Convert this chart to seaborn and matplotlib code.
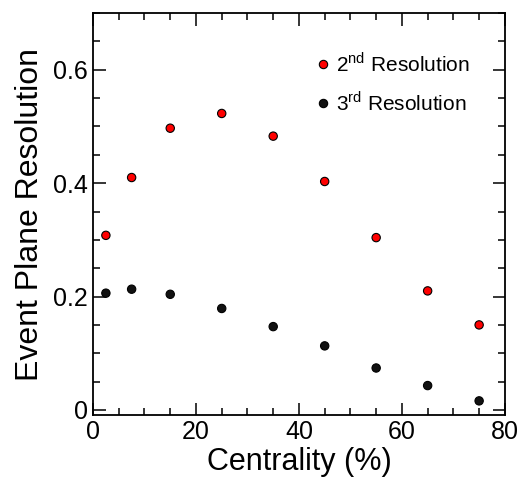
import matplotlib
matplotlib.use("Agg")
import matplotlib.pyplot as plt
import seaborn as sns
import pandas as pd
from matplotlib.ticker import MultipleLocator

# Centrality bin centres and event plane resolutions
centrality = [2.5, 7.5, 15, 25, 35, 45, 55, 65, 75]
res_2nd = [0.308, 0.410, 0.497, 0.523, 0.483, 0.403, 0.304, 0.210, 0.150]
res_3rd = [0.206, 0.213, 0.204, 0.179, 0.147, 0.113, 0.074, 0.043, 0.016]
series_labels = ["2$^{\\mathregular{nd}}$ Resolution", "3$^{\\mathregular{rd}}$ Resolution"]

df = pd.DataFrame({
    "Centrality": centrality * 2,
    "Resolution": res_2nd + res_3rd,
    "Series": [series_labels[0]] * len(centrality) + [series_labels[1]] * len(centrality),
})

sns.set_style("ticks")
plt.rcParams["font.family"] = ["Liberation Sans", "DejaVu Sans"]
plt.rcParams["mathtext.fontset"] = "custom"
plt.rcParams["mathtext.rm"] = "Liberation Sans"
for key in ["text.color", "axes.labelcolor", "xtick.color", "ytick.color", "axes.edgecolor"]:
    plt.rcParams[key] = "black"

fig = plt.figure(figsize=(5.27, 4.86), dpi=100)
ax = fig.add_axes([0.1765, 0.146, 0.7815, 0.827])

sns.scatterplot(data=df, x="Centrality", y="Resolution", hue="Series",
                palette=["#ff0000", "#111111"], s=36, edgecolor="black",
                linewidth=0.8, ax=ax)

ax.set_xlim(0, 80)
ax.set_ylim(-0.009, 0.7)
ax.xaxis.set_major_locator(MultipleLocator(20))
ax.xaxis.set_minor_locator(MultipleLocator(5))
ax.yaxis.set_minor_locator(MultipleLocator(0.05))
ax.set_yticks([0, 0.2, 0.4, 0.6])
ax.set_yticklabels(["0", "0.2", "0.4", "0.6"])
ax.tick_params(which="both", direction="in", top=True, right=True, labelsize=18, width=1.1)
ax.tick_params(which="major", length=9)
ax.tick_params(which="minor", length=5)
for sp in ax.spines.values():
    sp.set_linewidth(1.3)

ax.set_xlabel("Centrality (%)", fontsize=22, labelpad=2)
ax.set_ylabel("Event Plane Resolution", fontsize=23, labelpad=6)

ax.legend(loc="upper left", bbox_to_anchor=(0.54, 0.905), frameon=False,
          fontsize=15, handlelength=0.7, handletextpad=0.3, labelspacing=0.75,
          borderaxespad=0, borderpad=0)

fig.savefig("out.png", dpi=100)
